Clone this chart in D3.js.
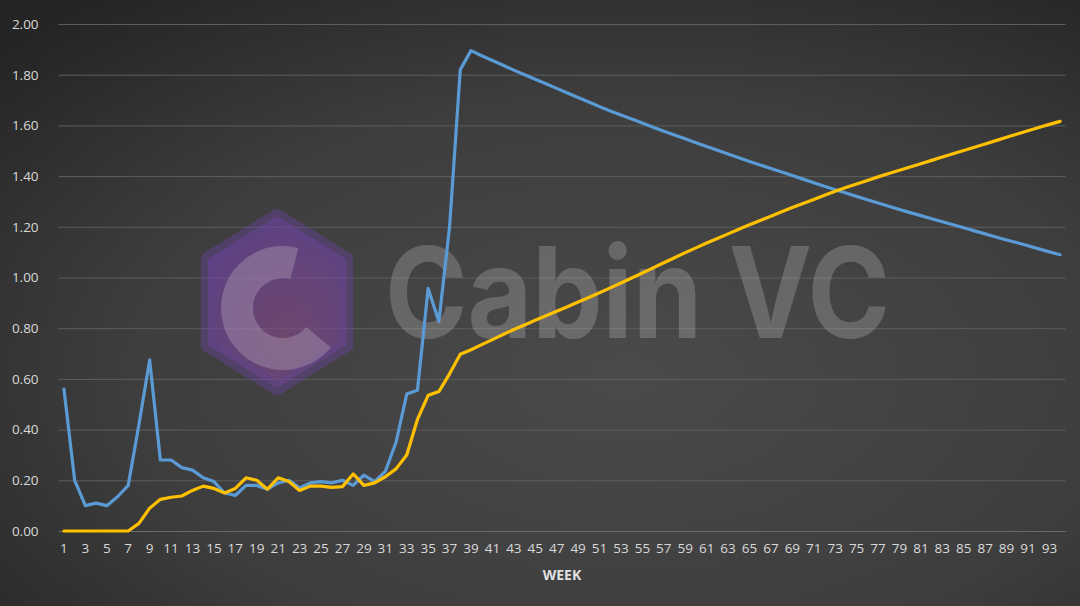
<!DOCTYPE html>
<html><head><meta charset="utf-8">
<script src="https://cdn.jsdelivr.net/npm/d3@7"></script>
<style>html,body{margin:0;padding:0;background:#333;}svg{display:block;}</style>
</head><body>
<svg id="chart" width="1080" height="606"></svg>
<script>
const weeks = d3.range(1, 95);
const blueValues = [0.56,0.20,0.10,0.11,0.10,0.135,0.18,0.42,0.675,0.28,0.28,0.25,0.24,0.21,0.195,0.15,0.14,0.18,0.18,0.165,
  0.19,0.20,0.17,0.19,0.195,0.19,0.20,0.18,0.22,0.195,0.235,0.35,0.54,0.555,0.957,0.826,1.20,1.82,1.895,1.875,
  1.856,1.837,1.818,1.80,1.782,1.764,1.746,1.728,1.71,1.692,1.674,1.657,1.641,1.625,1.609,1.593,1.577,1.562,1.547,1.532,
  1.517,1.502,1.487,1.472,1.458,1.444,1.43,1.416,1.402,1.388,1.374,1.36,1.346,1.333,1.32,1.307,1.294,1.281,1.268,1.256,
  1.244,1.232,1.22,1.208,1.196,1.184,1.172,1.16,1.148,1.137,1.125,1.113,1.101,1.09];
const yellowValues = [0,0,0,0,0,0,0,0.03,0.09,0.125,0.133,0.138,0.16,0.177,0.168,0.15,0.168,0.21,0.20,0.165,
  0.21,0.195,0.16,0.177,0.177,0.172,0.175,0.225,0.18,0.19,0.214,0.245,0.30,0.44,0.535,0.55,0.62,0.697,0.715,0.735,
  0.755,0.775,0.795,0.813,0.831,0.849,0.867,0.885,0.903,0.921,0.94,0.959,0.978,0.998,1.018,1.038,1.058,1.078,1.098,1.117,
  1.136,1.154,1.172,1.19,1.208,1.225,1.242,1.259,1.276,1.292,1.308,1.324,1.34,1.355,1.369,1.383,1.397,1.41,1.423,1.436,
  1.449,1.462,1.475,1.488,1.501,1.514,1.527,1.540,1.553,1.566,1.579,1.592,1.604,1.616];
const yTicks = [0,0.2,0.4,0.6,0.8,1.0,1.2,1.4,1.6,1.8,2.0];
const xTickLabels = weeks.filter(w => w % 2 === 1);
const xAxisTitle = "WEEK";
const watermarkText = "Cabin VC";

const svg = d3.select("#chart");
const W = 1080, H = 606;
const defs = svg.append("defs");
const bg = defs.append("radialGradient").attr("id","bg").attr("cx","58%").attr("cy","62%").attr("r","78%");
bg.append("stop").attr("offset","0%").attr("stop-color","#4a4a4a");
bg.append("stop").attr("offset","60%").attr("stop-color","#3d3d3d");
bg.append("stop").attr("offset","100%").attr("stop-color","#252525");
svg.append("rect").attr("width",W).attr("height",H).attr("fill","url(#bg)");

const margin = {left:58.6, right:1065.5, top:24, bottom:531};
const x = d3.scaleBand().domain(weeks).range([margin.left, margin.right]);
const y = d3.scaleLinear().domain([0,2]).range([margin.bottom, margin.top]);
const cx = w => x(w) + x.bandwidth()/2;

// gridlines
const yAxis = d3.axisLeft(y).tickValues(yTicks).tickFormat(d3.format(".2f")).tickSize(-(margin.right-margin.left)).tickPadding(20);
const gy = svg.append("g").attr("transform",`translate(${margin.left},0)`).call(yAxis);
gy.select(".domain").remove();
gy.selectAll(".tick line").attr("stroke","#5d5d5d").attr("stroke-width",1);
gy.selectAll(".tick text").attr("fill","#d9d9d9").attr("font-family","'Open Sans', sans-serif").attr("font-size",13.5);

// watermark
const wm = svg.append("g").attr("pointer-events","none");
const hx = 277, hy = 302, hr = 86;
const hex = d3.range(6).map(i => { const a = Math.PI/180*(60*i - 90); return [hx + hr*Math.cos(a)*0.93, hy + hr*Math.sin(a)]; });
const hg = defs.append("radialGradient").attr("id","hexg").attr("cx","55%").attr("cy","70%").attr("r","70%");
hg.append("stop").attr("offset","0%").attr("stop-color","#8a4a8a");
hg.append("stop").attr("offset","100%").attr("stop-color","#7245b0");
wm.append("path").attr("d", d3.line().curve(d3.curveLinearClosed)(hex)).attr("fill","url(#hexg)").attr("opacity",0.6)
  .attr("stroke","#7245b0").attr("stroke-opacity",0.6).attr("stroke-width",14).attr("stroke-linejoin","round");
const arc = d3.arc().innerRadius(30).outerRadius(62).startAngle(Math.PI*0.72).endAngle(Math.PI*2.08);
wm.append("path").attr("d", arc()).attr("transform",`translate(${hx+6},${hy+6})`).attr("fill","#c0b4c4").attr("opacity",0.33);
wm.append("text").attr("x",385).attr("y",338).attr("textLength",505).attr("lengthAdjust","spacingAndGlyphs")
  .attr("font-family","Inter, 'Open Sans', sans-serif").attr("font-weight",700).attr("font-size",126)
  .attr("fill","#ffffff").attr("opacity",0.19).text(watermarkText);

// x axis
const xAxis = d3.axisBottom(x).tickValues(xTickLabels).tickSize(0).tickPadding(12);
const gx = svg.append("g").attr("transform",`translate(0,${margin.bottom})`).call(xAxis);
gx.select(".domain").attr("stroke","#6a6a6a");
gx.selectAll(".tick text").attr("fill","#d9d9d9").attr("font-family","'Open Sans', sans-serif").attr("font-size",13.5);

svg.append("text").attr("x",562).attr("y",580).attr("text-anchor","middle").attr("fill","#e0e0e0")
  .attr("font-family","'Open Sans', sans-serif").attr("font-weight",700).attr("font-size",14).text(xAxisTitle);

// lines
const line = d3.line().x((d,i) => cx(weeks[i])).y(d => y(d));
svg.append("path").datum(blueValues).attr("d", line).attr("fill","none").attr("stroke","#5B9BD5")
  .attr("stroke-width",3.2).attr("stroke-linejoin","round").attr("stroke-linecap","round");
svg.append("path").datum(yellowValues).attr("d", line).attr("fill","none").attr("stroke","#FFC000")
  .attr("stroke-width",3.2).attr("stroke-linejoin","round").attr("stroke-linecap","round");
</script>
</body></html>
